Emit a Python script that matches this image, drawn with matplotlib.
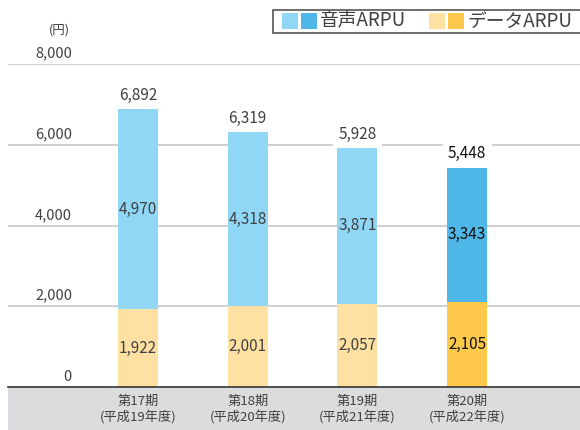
import matplotlib
matplotlib.use("Agg")
import matplotlib.pyplot as plt
from matplotlib.patches import Rectangle
import matplotlib.transforms as mtransforms

plt.rcParams['font.family'] = ['Noto Sans CJK JP', 'DejaVu Sans']

periods = ["第17期", "第18期", "第19期", "第20期"]
fiscal = ["(平成19年度)", "(平成20年度)", "(平成21年度)", "(平成22年度)"]
voice = [4970, 4318, 3871, 3343]
data = [1922, 2001, 2057, 2105]
totals = [6892, 6319, 5928, 5448]
yticks = [0, 2000, 4000, 6000, 8000]

W, H = 580, 430
fig = plt.figure(figsize=(W / 100, H / 100), dpi=100)

def fx(px):
    return px / W

def fy(py):
    return 1 - py / H

ax_left, ax_right, ax_top, ax_bottom = 8, 580, 64, 387
ax = fig.add_axes([fx(ax_left), fy(ax_bottom), fx(ax_right - ax_left), fy(ax_top) - fy(ax_bottom)])
ax.set_ylim(0, 8000)
spacing = 109.7
c0 = 138 - ax_left
ax.set_xlim(-c0 / spacing, (ax_right - ax_left - c0) / spacing)
for s in ax.spines.values():
    s.set_visible(False)
ax.set_xticks([])
ax.set_yticks([])

grid_c = "#c8c8c8"
for v in yticks[1:]:
    ax.axhline(v, color=grid_c, lw=1.2, zorder=1)

light_blue = ["#8fd7f5"] * 3 + ["#4fb6e8"]
light_yel = ["#fde0a2"] * 3 + ["#fec94b"]
bw = 40 / spacing
xs = list(range(len(periods)))
ax.bar(xs, data, width=bw, color=light_yel, zorder=2)
ax.bar(xs, voice, bottom=data, width=bw, color=light_blue, zorder=2)

txt_c = "#404040"
for i in xs:
    col = "#111111" if i == 3 else txt_c
    ax.text(i, data[i] + voice[i] / 2, f"{voice[i]:,}", ha="center", va="center",
            fontsize=11, color=col, zorder=4)
    ax.text(i, data[i] / 2, f"{data[i]:,}", ha="center", va="center",
            fontsize=11, color=col, zorder=4)
    ax.annotate(f"{totals[i]:,}", (i, totals[i]), xytext=(0, 3.5), textcoords="offset points",
                ha="center", va="bottom", fontsize=11, color=col, zorder=4,
                bbox=dict(boxstyle="square,pad=0.35", fc="white", ec="none"))

# y tick labels above gridlines
trans = mtransforms.blended_transform_factory(ax.transAxes, ax.transData)
xl = (72 - ax_left) / (ax_right - ax_left)
for v in yticks:
    ax.annotate(f"{v:,}", (xl, v), xycoords=trans, xytext=(0, 2.5), textcoords="offset points",
                ha="right", va="bottom", fontsize=10.5, color=txt_c)
fig.text(fx(70), fy(30), "(円)", ha="right", va="center", fontsize=9, color=txt_c)

# bottom gray band
fig.patches.append(Rectangle((fx(8), 0), fx(572), fy(387), transform=fig.transFigure,
                             fc="#dcdcde", ec="none", zorder=0))
fig.add_artist(plt.Line2D([fx(8), 1], [fy(387), fy(387)], transform=fig.transFigure,
                          color="#333333", lw=1.2))
for i in xs:
    xp = ax.transData.transform((i, 0))[0] / W
    fig.text(xp, fy(401), periods[i], ha="center", va="center", fontsize=9.5, color=txt_c)
    fig.text(xp, fy(418), fiscal[i], ha="center", va="center", fontsize=9.5, color=txt_c)

# legend
fig.patches.append(Rectangle((fx(273), fy(33)), fx(310), fy(10) - fy(33), transform=fig.transFigure,
                             fc="white", ec="#555555", lw=1.2))
for (x0, c) in [(282, "#8fd7f5"), (301, "#4fb6e8"), (429, "#fde0a2"), (448, "#fec94b")]:
    fig.patches.append(Rectangle((fx(x0), fy(29)), fx(16), fy(13) - fy(29), transform=fig.transFigure,
                                 fc=c, ec="none"))
fig.text(fx(320), fy(21), "音声ARPU", ha="left", va="center", fontsize=13.5, color=txt_c)
fig.text(fx(467), fy(21), "データARPU", ha="left", va="center", fontsize=13.5, color=txt_c)

fig.savefig("out.png", dpi=100)
